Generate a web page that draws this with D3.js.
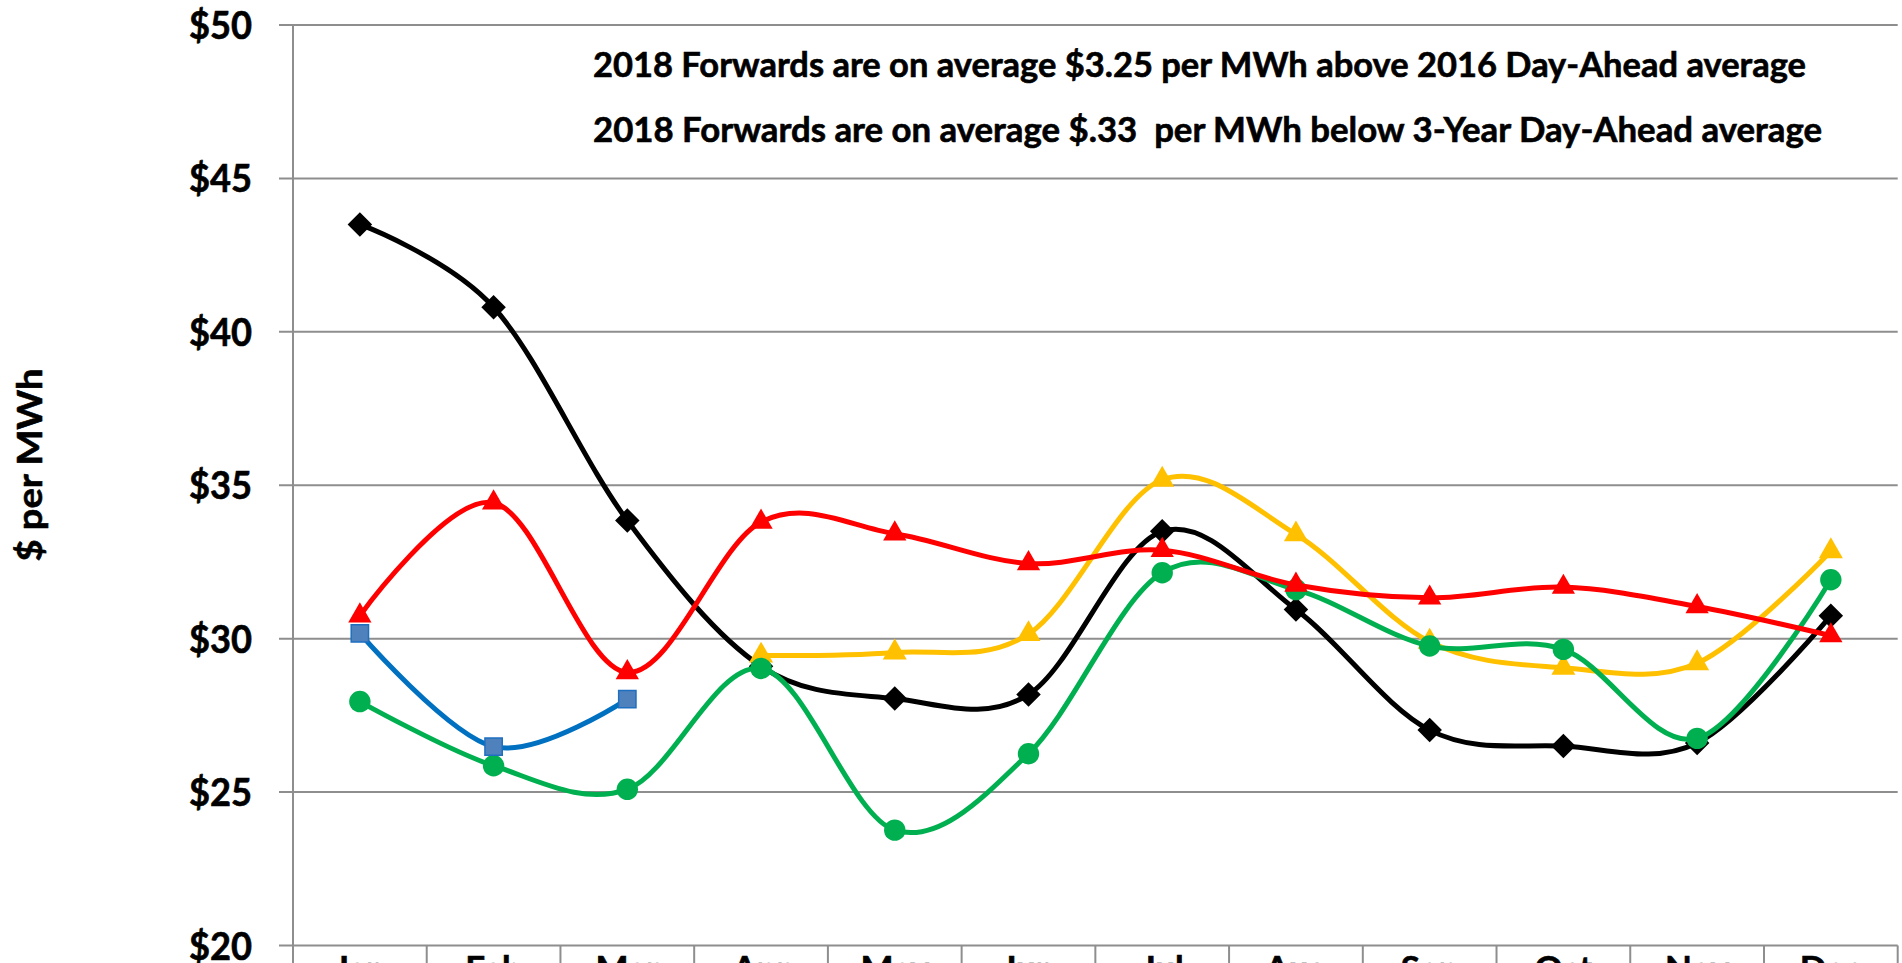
<!DOCTYPE html>
<html>
<head>
<meta charset="utf-8">
<script src="https://cdn.jsdelivr.net/npm/d3@7"></script>
<style>
  html, body { margin: 0; padding: 0; background: #fff; overflow: hidden; }
  svg { display: block; }
  text { font-family: Lato, "Open Sans", "DejaVu Sans", sans-serif; font-weight: 700; fill: #000; white-space: pre; stroke: #000; stroke-width: 0.6px; }
</style>
</head>
<body>
<svg id="chart" width="1902" height="963"></svg>
<script>
// ---------- data ----------
const months = ["Jan","Feb","Mar","Apr","May","Jun","Jul","Aug","Sep","Oct","Nov","Dec"];
const yTicks = [20, 25, 30, 35, 40, 45, 50];
const blackSeries  = [43.5, 40.8, 33.85, 29.1, 28.05, 28.18, 33.5, 30.95, 27.02, 26.5, 26.6, 30.75];
const yellowSeries = [null, null, null, 29.45, 29.55, 30.15, 35.18, 33.4, 29.9, 29.05, 29.2, 32.85];
const greenSeries  = [27.95, 25.86, 25.09, 29.03, 23.76, 26.25, 32.15, 31.6, 29.76, 29.65, 26.75, 31.92];
const redSeries    = [30.75, 34.43, 28.9, 33.8, 33.42, 32.45, 32.88, 31.75, 31.33, 31.68, 31.05, 30.1];
const blueSeries   = [30.17, 26.48, 28.03, null, null, null, null, null, null, null, null, null];
const yAxisTitle = "$ per MWh";
const notes = [
  "2018 Forwards are on average $3.25 per MWh above 2016 Day-Ahead average",
  "2018 Forwards are on average $.33  per MWh below 3-Year Day-Ahead average"
];

(function () {
// ---------- layout ----------
const svg = d3.select("#chart");
const pLeft = 293, pRight = 1897.7, pTop = 25, pBottom = 945.5;
const x = d3.scaleBand().domain(months).range([pLeft, pRight]).padding(0);
const y = d3.scaleLinear().domain([20, 50]).range([pBottom, pTop]);
const cx = m => x(m) + x.bandwidth() / 2;
const gridColor = "#8e8e8e";

// gridlines (with outside tick stubs)
svg.append("g").selectAll("line").data(yTicks).join("line")
  .attr("x1", pLeft - 14).attr("x2", pRight)
  .attr("y1", d => y(d)).attr("y2", d => y(d))
  .attr("stroke", gridColor).attr("stroke-width", 2);

// category boundary ticks
const bounds = months.map(m => x(m)).concat([pRight]);
svg.append("g").selectAll("line").data(bounds).join("line")
  .attr("x1", d => d).attr("x2", d => d)
  .attr("y1", (d, i) => i === 0 ? pTop : pBottom).attr("y2", 1000)
  .attr("stroke", gridColor).attr("stroke-width", 2);

// y axis labels
const yAxis = d3.axisLeft(y).tickValues(yTicks).tickFormat(d => "$" + d)
  .tickSize(0).tickPadding(41);
const gy = svg.append("g").attr("transform", `translate(${pLeft},0)`).call(yAxis);
gy.select(".domain").remove();
gy.selectAll("text").attr("font-size", 37.5).style("font-family", "Lato, sans-serif")
  .style("font-weight", 700).attr("fill", "#000").attr("dy", "0.36em")
  .attr("textLength", 63).attr("lengthAdjust", "spacingAndGlyphs");

// x axis labels
const xAxis = d3.axisBottom(x).tickSize(0).tickPadding(11);
const gx = svg.append("g").attr("transform", `translate(0,${pBottom})`).call(xAxis);
gx.select(".domain").remove();
gx.selectAll("text").attr("font-size", 35).style("font-family", "Lato, sans-serif").style("font-weight", 700).attr("fill", "#000");

// y axis title
svg.append("text")
  .attr("transform", "translate(41.5,465) rotate(-90)")
  .attr("text-anchor", "middle")
  .attr("font-size", 35)
  .attr("textLength", 193).attr("lengthAdjust", "spacingAndGlyphs")
  .text(yAxisTitle);

// notes
const noteLayout = [{x: 593, y: 77.3, w: 1213}, {x: 593, y: 141.7, w: 1229}];
svg.append("g").selectAll("text").data(notes).join("text")
  .attr("x", (d, i) => noteLayout[i].x)
  .attr("y", (d, i) => noteLayout[i].y)
  .attr("font-size", 34.5)
  .attr("textLength", (d, i) => noteLayout[i].w)
  .attr("lengthAdjust", "spacingAndGlyphs")
  .text(d => d);

// ---------- series ----------
const line = d3.line()
  .defined(d => d.v != null)
  .x(d => cx(d.m)).y(d => y(d.v))
  .curve(d3.curveCardinal.tension(0));

const seriesDefs = [
  {vals: blackSeries,  color: "#000000", sym: d3.symbolSquare,   size: 300, rot: 45, fill: "#000000", stroke: "none"},
  {vals: yellowSeries, color: "#FFC000", sym: d3.symbolTriangle, size: 250, rot: 0,  fill: "#FFC000", stroke: "none"},
  {vals: greenSeries,  color: "#00B050", sym: d3.symbolCircle,   size: 360, rot: 0,  fill: "#00B050", stroke: "none"},
  {vals: redSeries,    color: "#FF0000", sym: d3.symbolTriangle, size: 235, rot: 0,  fill: "#FF0000", stroke: "none"},
  {vals: blueSeries,   color: "#0070C0", sym: d3.symbolSquare,   size: 300, rot: 0,  fill: "#4F81BD", stroke: "#1F6FC0"}
];

seriesDefs.forEach(s => {
  const pts = months.map((m, i) => ({m, v: s.vals[i]}));
  const g = svg.append("g");
  g.append("path").datum(pts)
    .attr("d", line)
    .attr("fill", "none").attr("stroke", s.color)
    .attr("stroke-width", 5).attr("stroke-linejoin", "round").attr("stroke-linecap", "round");
  g.selectAll("path.mk").data(pts.filter(p => p.v != null)).join("path")
    .attr("class", "mk")
    .attr("d", d3.symbol().type(s.sym).size(s.size))
    .attr("transform", d => `translate(${cx(d.m)},${y(d.v)}) rotate(${s.rot})`)
    .attr("fill", s.fill)
    .attr("stroke", s.stroke).attr("stroke-width", 1.5);
});
})();
</script>
</body>
</html>
